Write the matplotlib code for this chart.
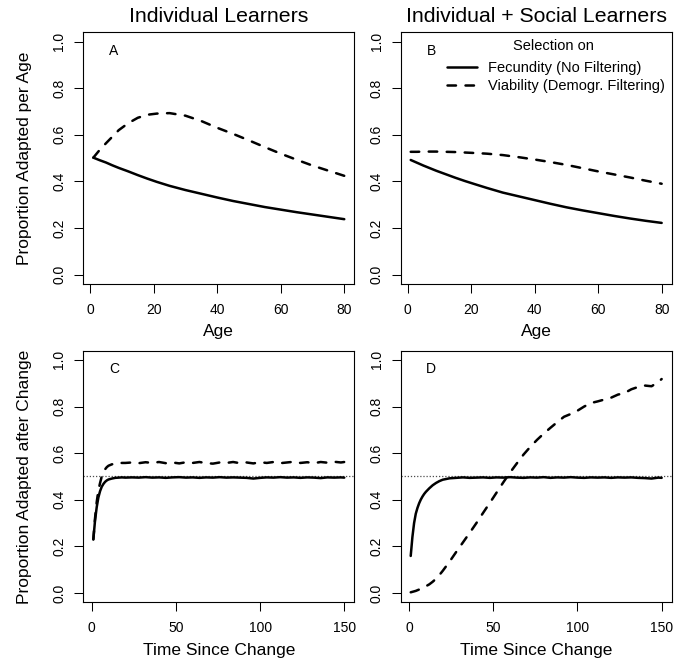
import matplotlib
matplotlib.use("Agg")
import matplotlib.pyplot as plt

plt.rcParams["font.family"] = ["Liberation Sans", "DejaVu Sans"]

FIG_W, FIG_H, DPI = 6.75, 6.66, 100

###############################################################################
# top row: proportion adapted per age

AGE = [1, 3, 5, 7, 9, 12, 15, 18, 21, 25, 30, 35, 40, 45, 50, 55, 60, 65, 70, 75, 80]

IND_FECUNDITY = [0.502, 0.491, 0.481, 0.469, 0.458, 0.443, 0.427, 0.412, 0.398, 0.381,
                 0.363, 0.347, 0.331, 0.316, 0.303, 0.290, 0.279, 0.268, 0.258, 0.248, 0.238]
IND_VIABILITY = [0.502, 0.535, 0.564, 0.592, 0.620, 0.650, 0.673, 0.686, 0.691, 0.693,
                 0.682, 0.659, 0.630, 0.604, 0.576, 0.547, 0.519, 0.493, 0.468, 0.446, 0.424]
SOC_FECUNDITY = [0.492, 0.480, 0.468, 0.457, 0.446, 0.431, 0.416, 0.402, 0.389, 0.372,
                 0.352, 0.336, 0.320, 0.304, 0.289, 0.276, 0.264, 0.252, 0.241, 0.231, 0.222]
SOC_VIABILITY = [0.527, 0.527, 0.528, 0.528, 0.528, 0.527, 0.526, 0.524, 0.522, 0.519,
                 0.513, 0.504, 0.494, 0.483, 0.471, 0.457, 0.443, 0.430, 0.417, 0.403, 0.390]

###############################################################################
# bottom row: proportion adapted after an environmental change

TIME = [1, 2, 3, 4, 5, 6, 7, 8, 9, 10, 12, 14, 16, 18, 20,
        24, 28, 32, 36, 40, 44, 48, 52, 56, 60, 64, 68, 72, 76, 80, 84,
        88, 92, 96, 100, 104, 108, 112, 116, 120, 124, 128, 132, 136, 140, 144, 148, 150]

IND_FECUNDITY_T = [0.230, 0.310, 0.368, 0.410, 0.437, 0.456, 0.468, 0.477, 0.483, 0.487,
                   0.491, 0.494, 0.495, 0.496, 0.495,
                   0.496, 0.495, 0.497, 0.495, 0.496, 0.494, 0.496, 0.497, 0.495, 0.496,
                   0.494, 0.496, 0.495, 0.497, 0.495, 0.496, 0.495, 0.494, 0.491, 0.494,
                   0.496, 0.495, 0.497, 0.495, 0.496, 0.494, 0.496, 0.495, 0.493, 0.496,
                   0.495, 0.496, 0.495]
IND_VIABILITY_T = [0.230, 0.320, 0.390, 0.440, 0.472, 0.500, 0.518, 0.531, 0.540, 0.546,
                   0.552, 0.555, 0.557, 0.558, 0.558,
                   0.560, 0.557, 0.561, 0.558, 0.562, 0.557, 0.560, 0.556, 0.561, 0.558,
                   0.562, 0.557, 0.555, 0.560, 0.558, 0.562, 0.557, 0.560, 0.556, 0.561,
                   0.558, 0.562, 0.557, 0.560, 0.563, 0.558, 0.561, 0.557, 0.562, 0.559,
                   0.563, 0.560, 0.562]
SOC_FECUNDITY_T = [0.159, 0.240, 0.300, 0.340, 0.365, 0.385, 0.401, 0.414, 0.425, 0.434,
                   0.449, 0.462, 0.472, 0.480, 0.486,
                   0.492, 0.494, 0.496, 0.494, 0.495, 0.496, 0.494, 0.496, 0.495, 0.497,
                   0.495, 0.494, 0.496, 0.495, 0.497, 0.494, 0.496, 0.495, 0.497, 0.495,
                   0.494, 0.496, 0.495, 0.496, 0.494, 0.496, 0.495, 0.496, 0.494, 0.493,
                   0.491, 0.495, 0.494]
SOC_VIABILITY_T = [0.003, 0.005, 0.007, 0.009, 0.012, 0.015, 0.018, 0.021, 0.025, 0.029,
                   0.037, 0.048, 0.061, 0.077, 0.095,
                   0.134, 0.176, 0.217, 0.258, 0.300, 0.344, 0.387, 0.431, 0.475, 0.517,
                   0.556, 0.594, 0.627, 0.657, 0.684, 0.709, 0.733, 0.756, 0.768, 0.782,
                   0.800, 0.815, 0.822, 0.830, 0.838, 0.851, 0.858, 0.874, 0.884, 0.890,
                   0.887, 0.905, 0.918]

TITLES = ["Individual Learners", "Individual + Social Learners"]
LETTERS = ["A", "B", "C", "D"]
XLABELS = ["Age", "Time Since Change"]
YLABELS = ["Proportion Adapted per Age", "Proportion Adapted after Change"]
LEGEND_TITLE = "Selection on"
LEGEND_LABELS = ["Fecundity (No Filtering)", "Viability (Demogr. Filtering)"]

AGE_TICKS = [0, 20, 40, 60, 80]
TIME_TICKS = [0, 50, 100, 150]
Y_TICKS = [0.0, 0.2, 0.4, 0.6, 0.8, 1.0]

LW = 1.8
DASHES = (3.4, 3.8)

###############################################################################

def r_limits(values):
    ''' R style axis limits: data range padded by 4% on each side '''
    lo, hi = min(values), max(values)
    pad = 0.04 * (hi - lo)
    return lo - pad, hi + pad

def draw_panel(ax, x, fec, via, xticks, letter):
    ''' Draws the two selection curves and styles the axes like base R '''
    ax.plot(x, fec, color="black", lw=LW, solid_capstyle="round",
            label=LEGEND_LABELS[0])
    ax.plot(x, via, color="black", lw=LW, dashes=DASHES, dash_capstyle="round",
            label=LEGEND_LABELS[1])
    ax.set_xlim(*r_limits(x))
    ax.set_ylim(-0.04, 1.04)
    ax.set_xticks(xticks)
    ax.set_yticks(Y_TICKS)
    ax.set_yticklabels([f"{v:.1f}" for v in Y_TICKS])
    ax.tick_params(direction="out", length=6.2, width=0.75, labelsize=10,
                   top=False, right=False)
    ax.tick_params(axis="x", pad=7.5)
    ax.tick_params(axis="y", pad=6, labelrotation=90)
    for lab in ax.get_yticklabels():
        lab.set_va("center")
    for sp in ax.spines.values():
        sp.set_linewidth(0.8)
        sp.set_color("black")
    ax.text(0.113, 0.925, letter, transform=ax.transAxes, ha="center",
            va="center", fontsize=10)

###############################################################################

fig = plt.figure(figsize=(FIG_W, FIG_H), dpi=DPI)

W, H = 0.4015, 0.378
LEFT = [0.1234, 0.5936]
BOTTOM = [0.5736, 0.0956]

ax_a = fig.add_axes([LEFT[0], BOTTOM[0], W, H])
ax_b = fig.add_axes([LEFT[1], BOTTOM[0], W, H])
ax_c = fig.add_axes([LEFT[0], BOTTOM[1], W, H])
ax_d = fig.add_axes([LEFT[1], BOTTOM[1], W, H])

for ax in (ax_c, ax_d):
    ax.axhline(0.5, color="0.3", lw=0.9, ls=(0, (1, 1.5)), zorder=1)

draw_panel(ax_a, AGE, IND_FECUNDITY, IND_VIABILITY, AGE_TICKS, LETTERS[0])
draw_panel(ax_b, AGE, SOC_FECUNDITY, SOC_VIABILITY, AGE_TICKS, LETTERS[1])
draw_panel(ax_c, TIME, IND_FECUNDITY_T, IND_VIABILITY_T, TIME_TICKS, LETTERS[2])
draw_panel(ax_d, TIME, SOC_FECUNDITY_T, SOC_VIABILITY_T, TIME_TICKS, LETTERS[3])

ax_a.set_title(TITLES[0], fontsize=15.3, pad=7.6)
ax_b.set_title(TITLES[1], fontsize=15.3, pad=7.6)

for ax, lab in ((ax_a, XLABELS[0]), (ax_b, XLABELS[0]),
                (ax_c, XLABELS[1]), (ax_d, XLABELS[1])):
    ax.set_xlabel(lab, fontsize=12.5)
    ax.xaxis.set_label_coords(0.5, -0.16)

ax_a.set_ylabel(YLABELS[0], fontsize=12.5)
ax_a.yaxis.set_label_coords(-0.19, 0.5)
ax_c.set_ylabel(YLABELS[1], fontsize=12.5)
ax_c.yaxis.set_label_coords(-0.19, 0.5)

# legend title drawn separately, R puts a wider gap under it
ax_b.text(0.562, 0.946, LEGEND_TITLE, transform=ax_b.transAxes, ha="center",
          va="center", fontsize=10.5)
ax_b.legend(loc="upper right", bbox_to_anchor=(1.0, 0.915),
            frameon=False, fontsize=10.5,
            handlelength=2.1, handletextpad=0.7, labelspacing=0.29,
            borderaxespad=0.2, borderpad=0.3)

fig.savefig("out.png", dpi=DPI)
